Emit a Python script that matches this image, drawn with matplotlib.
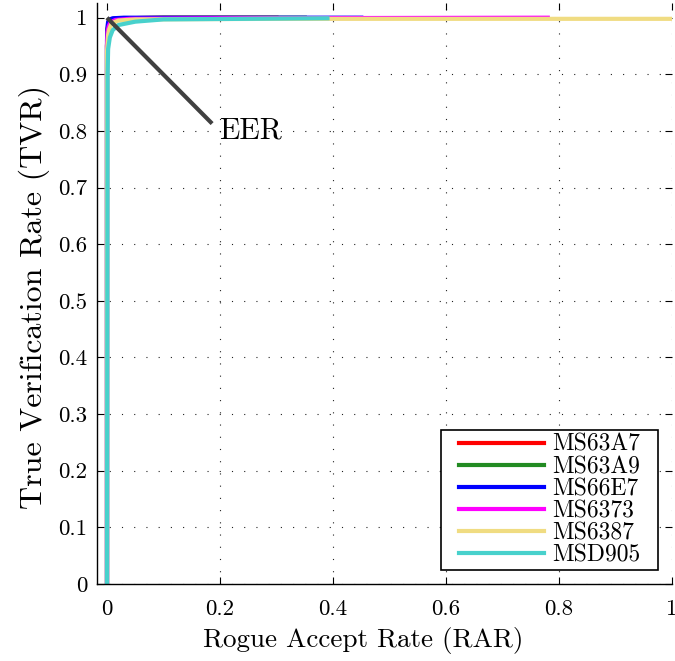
import matplotlib
matplotlib.use("Agg")
import matplotlib.pyplot as plt
from matplotlib.patches import Rectangle

plt.rcParams['font.family'] = 'serif'
plt.rcParams['font.serif'] = ['cmr10']
plt.rcParams['mathtext.fontset'] = 'cm'
plt.rcParams['axes.formatter.use_mathtext'] = True

names = ["MS63A7", "MS63A9", "MS66E7", "MS6373", "MS6387", "MSD905"]
colors = ["#ff0000", "#228b22", "#0000ff", "#ff00ff", "#f0dc82", "#48d1cc"]

# rogue accept rate / true verification rate per device
rar = {
    "MS63A7": [0, 0.0, 0.001, 0.003, 0.006, 0.012, 0.03, 0.1, 0.3],
    "MS63A9": [0, 0.0, 0.001, 0.003, 0.006, 0.012, 0.03, 0.1, 0.35],
    "MS66E7": [0, 0.0, 0.001, 0.002, 0.005, 0.01, 0.03, 0.1, 0.45],
    "MS6373": [0, 0.0, 0.001, 0.003, 0.006, 0.015, 0.04, 0.2, 0.78],
    "MS6387": [0, 0.0, 0.002, 0.004, 0.008, 0.02, 0.05, 0.3, 1.0],
    "MSD905": [0, 0.001, 0.002, 0.005, 0.01, 0.02, 0.05, 0.1, 0.39],
}
tvr = {
    "MS63A7": [0, 0.95, 0.98, 0.99, 0.995, 0.998, 0.999, 1.0, 1.0],
    "MS63A9": [0, 0.95, 0.98, 0.99, 0.995, 0.998, 0.999, 1.0, 1.0],
    "MS66E7": [0, 0.96, 0.985, 0.993, 0.997, 0.999, 1.0, 1.0, 1.0],
    "MS6373": [0, 0.95, 0.975, 0.985, 0.992, 0.996, 0.998, 0.999, 1.0],
    "MS6387": [0, 0.94, 0.97, 0.98, 0.99, 0.995, 0.997, 0.998, 0.998],
    "MSD905": [0, 0.9, 0.945, 0.965, 0.978, 0.987, 0.993, 0.997, 0.999],
}

xticks = [0, 0.2, 0.4, 0.6, 0.8, 1]
xticklabels = ["0", "0.2", "0.4", "0.6", "0.8", "1"]
yticks = [0, 0.1, 0.2, 0.3, 0.4, 0.5, 0.6, 0.7, 0.8, 0.9, 1]
yticklabels = ["0", "0.1", "0.2", "0.3", "0.4", "0.5", "0.6", "0.7", "0.8", "0.9", "1"]

fig = plt.figure(figsize=(6.75, 6.61), dpi=100)
ax = fig.add_axes([0.1437, 0.1165, 0.852, 0.879])

for name, c in zip(names, colors):
    ax.plot(rar[name], tvr[name], color=c, lw=3, label=name, solid_joinstyle='round')

# EER pointer
ax.plot([0.0, 0.186], [1.0, 0.813], color="#404040", lw=3, solid_capstyle='butt')
ax.text(0.198, 0.80, "EER", fontsize=21.5, va='center', ha='left')

ax.set_xlim(-0.0177, 1)
ax.set_ylim(0, 1.026)
ax.set_xticks(xticks)
ax.set_xticklabels(xticklabels)
ax.set_yticks(yticks)
ax.set_yticklabels(yticklabels)
ax.tick_params(direction='in', length=5, top=True, right=True, labelsize=16.5)
ax.tick_params(axis='x', pad=11)
ax.tick_params(axis='y', pad=7)
ax.grid(True, color='#222222', linestyle=(0, (1, 10)), lw=0.8)
ax.spines['top'].set_visible(False)
ax.spines['right'].set_visible(False)
ax.spines['left'].set_linewidth(1)
ax.spines['bottom'].set_linewidth(1)

ax.set_xlabel("Rogue Accept Rate (RAR)", fontsize=19.5, labelpad=6)
ax.set_ylabel("True Verification Rate (TVR)", fontsize=23, labelpad=6)
ax.xaxis.label.set_x(0.463)
ax.yaxis.label.set_y(0.494)

leg = ax.legend(loc='lower right', bbox_to_anchor=(0.951, 0.024), borderaxespad=0,
                fontsize=17, frameon=False, handlelength=3.6, labelspacing=0.0,
                handletextpad=0.35, borderpad=0.15)
leg.set_zorder(6)

# legend frame, wider than the entries on the sides
fig.canvas.draw()
bb = leg.get_window_extent().transformed(fig.transFigure.inverted())
padx = 14 / fig.bbox.width
frame = Rectangle((bb.x0 - padx, bb.y0), bb.width + 2 * padx, bb.height,
                  transform=fig.transFigure, facecolor='white', edgecolor='black',
                  lw=1.2, zorder=5.5, clip_on=False)
ax.add_patch(frame)

fig.savefig("out.png", dpi=100)
